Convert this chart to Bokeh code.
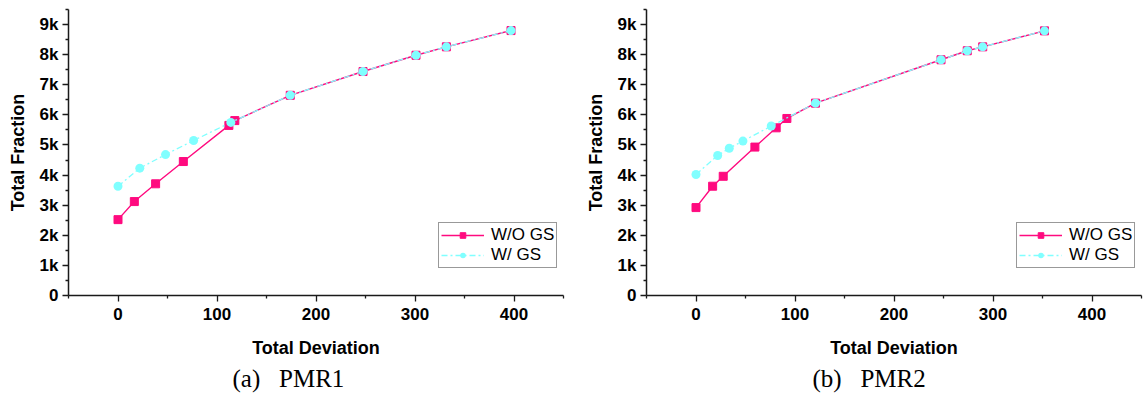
from bokeh.plotting import figure
from bokeh.layouts import row
from bokeh.models import FixedTicker, Legend, LegendItem, Title
from bokeh.embed import file_html
from bokeh.resources import INLINE

# ---- data ----
x_tick_vals = [0, 100, 200, 300, 400]
y_tick_vals = [0, 1000, 2000, 3000, 4000, 5000, 6000, 7000, 8000, 9000]
y_tick_labels = ["0", "1k", "2k", "3k", "4k", "5k", "6k", "7k", "8k", "9k"]

# (a) PMR1
a_wo_x = [0, 16.5, 38, 66, 112, 118, 174, 247.5, 301, 331.7, 397]
a_wo_y = [2520, 3120, 3710, 4450, 5650, 5810, 6650, 7440, 7980, 8260, 8800]
a_w_x = [0, 22, 48, 76.4, 114, 174, 247.5, 301, 331.7, 397]
a_w_y = [3630, 4230, 4680, 5150, 5750, 6650, 7440, 7980, 8260, 8800]

# (b) PMR2
b_wo_x = [0, 16.8, 27.5, 59.5, 81, 91.8, 120.7, 247.5, 274, 289.6, 352]
b_wo_y = [2920, 3630, 3960, 4930, 5570, 5880, 6390, 7830, 8130, 8260, 8790]
b_w_x = [0, 21.9, 33.6, 47.4, 76, 120.7, 247.5, 274, 289.6, 352]
b_w_y = [4020, 4650, 4890, 5130, 5630, 6390, 7830, 8130, 8260, 8790]

series_names = ["W/O GS", "W/ GS"]
captions = ["(a)\u00a0\u00a0\u00a0PMR1", "(b)\u00a0\u00a0\u00a0PMR2"]
x_title = "Total Deviation"
y_title = "Total Fraction"

PINK = "#ff0a7f"
CYAN = "#80ffff"
AX = "#1a1a1a"


def make_plot(wo_x, wo_y, w_x, w_y, caption, width, border_left, border_right, cap_off):
    p = figure(width=width, height=399, frame_width=495, frame_height=286,
               x_range=(-50, 450), y_range=(0, 9500),
               output_backend="svg", toolbar_location=None,
               min_border_left=border_left, min_border_top=9, min_border_right=border_right,
               min_border_bottom=104)
    p.outline_line_color = None
    p.grid.visible = False
    p.background_fill_color = "white"
    p.border_fill_color = "white"

    p.xaxis.ticker = FixedTicker(ticks=x_tick_vals,
                                 minor_ticks=[-50, 50, 150, 250, 350, 450])
    p.yaxis.ticker = FixedTicker(ticks=y_tick_vals,
                                 minor_ticks=[v + 500 for v in y_tick_vals])
    p.yaxis.major_label_overrides = {v: s for v, s in zip(y_tick_vals, y_tick_labels)}

    for ax in (p.xaxis, p.yaxis):
        ax.axis_line_color = AX
        ax.axis_line_width = 1.5
        ax.major_tick_line_color = AX
        ax.minor_tick_line_color = AX
        ax.major_tick_line_width = 1.3
        ax.minor_tick_line_width = 1.3
        ax.major_tick_in = 0
        ax.major_tick_out = 6
        ax.minor_tick_in = 0
        ax.minor_tick_out = 3
        ax.major_label_text_font = "Liberation Sans"
        ax.major_label_text_font_style = "bold"
        ax.major_label_text_font_size = "17px"
        ax.major_label_text_color = "black"
        ax.axis_label_text_font = "Liberation Sans"
        ax.axis_label_text_font_style = "bold"
        ax.axis_label_text_font_size = "18px"
        ax.axis_label_text_color = "black"
    p.xaxis.major_label_standoff = 6
    p.yaxis.major_label_standoff = 4
    p.xaxis.axis_label = x_title
    p.xaxis.axis_label_standoff = 15
    p.yaxis.axis_label = y_title
    p.yaxis.axis_label_standoff = 9

    r1 = p.line(wo_x, wo_y, line_color=PINK, line_width=1.4)
    r1m = p.scatter(wo_x, wo_y, marker="square", size=8, fill_color=PINK, line_color=PINK)
    r2 = p.line(w_x, w_y, line_color=CYAN, line_width=1.3, line_dash="6 3 2 3")
    r2m = p.scatter(w_x, w_y, marker="circle", size=9, fill_color=CYAN, line_color=None)

    leg = Legend(items=[LegendItem(label=series_names[0], renderers=[r1, r1m]),
                        LegendItem(label=series_names[1], renderers=[r2, r2m])],
                 location=(370, 27))
    leg.border_line_color = "#333333"
    leg.border_line_width = 1
    leg.background_fill_color = "white"
    leg.label_text_font = "Liberation Sans"
    leg.label_text_font_size = "17px"
    leg.label_text_color = "black"
    leg.glyph_width = 43
    leg.glyph_height = 14
    leg.label_height = 14
    leg.label_standoff = 7
    leg.spacing = 0
    leg.padding = 2
    leg.margin = 0
    p.add_layout(leg, "center")

    t2 = Title(text=caption, align="left", offset=cap_off,
               text_font="Liberation Serif", text_font_style="normal",
               text_font_size="25px", text_color="black", standoff=5)
    p.add_layout(t2, "below")
    return p


p1 = make_plot(a_wo_x, a_wo_y, a_w_x, a_w_y, captions[0], 582, 68, 19, 164)
p2 = make_plot(b_wo_x, b_wo_y, b_w_x, b_w_y, captions[1], 562, 64, 3, 166)

layout = row(p1, p2, spacing=0)
open("out.html", "w").write(file_html(layout, INLINE))
